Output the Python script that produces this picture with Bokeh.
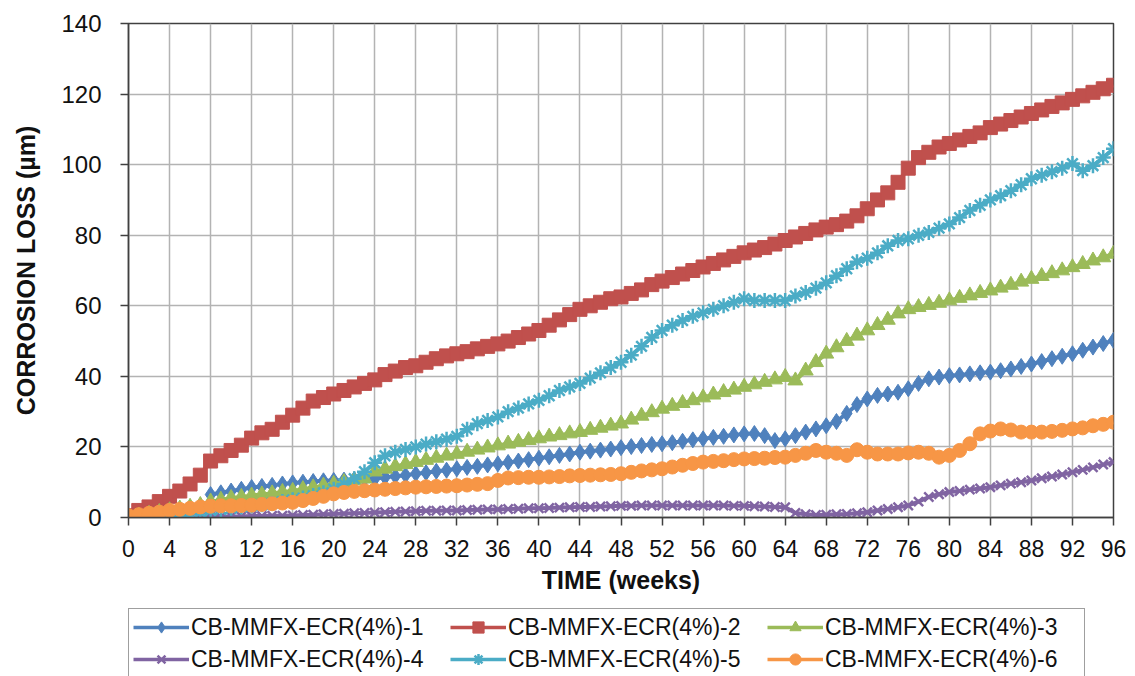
from bokeh.plotting import figure
from bokeh.layouts import column
from bokeh.models import Range1d, FixedTicker, Legend, LegendItem
from bokeh.embed import file_html
from bokeh.resources import INLINE

# ---------------- data ----------------
weeks = list(range(0, 97))
weeks_s1 = list(range(8, 97))

s1 = [6.5, 7, 7.5, 8, 8.5, 8.8, 9.1, 9.5, 9.8, 10, 10.2, 10.4, 10.5, 10.6, 10.8, 10.9,
      11, 11.4, 11.7, 12, 12.4, 12.7, 13.1, 13.4, 13.8, 14.2, 14.5, 14.9, 15.2, 15.6, 16, 16.4,
      16.8, 17.2, 17.6, 18, 18.5, 18.8, 19.1, 19.4, 19.8, 20.1, 20.4, 20.7, 20.9, 21.2, 21.6, 22,
      22.3, 22.7, 23, 23.4, 23.7, 23.8, 23.2, 21.8, 22.3, 23.2, 24.2, 25.1, 26, 27.2, 29.5, 32,
      33.6, 34.6, 35, 35.5, 36.5, 38, 39.3, 39.8, 40.2, 40.4, 40.7, 41, 41.2, 41.6, 42.1, 42.8,
      43.5, 44.2, 45, 45.7, 46.4, 47.4, 48.3, 49.3, 50.2]

s2 = [0.5, 2, 3, 4.5, 6, 7.5, 9.5, 12, 16, 17.5, 19, 20.5, 22.5, 24, 25, 27,
      29, 31, 33, 34, 35, 36, 37, 38, 39, 40.5, 41.5, 42.5, 43, 44, 45, 45.8,
      46.4, 47, 47.8, 48.5, 49.2, 50, 51, 52, 53, 54.5, 56, 57.5, 59, 60, 61, 62,
      62.5, 63.5, 64.5, 66, 67, 68, 69, 70, 71, 72, 73, 74, 75, 75.8, 76.5, 77.5,
      78.5, 79.5, 80.5, 81.5, 82.3, 83, 84, 85.5, 87.5, 90, 92, 95, 99, 102, 103.5, 105,
      106, 107, 108, 109, 110.5, 111.5, 112.5, 113.5, 114.5, 115.5, 116.5, 117.5, 118.5, 119.5,
      120.5, 121.5, 122.5]

s3 = [0, 0.5, 1, 1.5, 2, 2.5, 3, 3.5, 4.5, 5, 5.5, 5.8, 6.2, 6.5, 6.8, 7.2,
      7.5, 8, 8.5, 9, 9.5, 10, 10.5, 11, 13, 13.8, 14.5, 15.1, 15.7, 16.3, 16.9, 17.5,
      18, 18.6, 19.2, 19.8, 20.4, 20.9, 21.4, 21.9, 22.4, 22.9, 23.3, 23.8, 24.2, 24.8, 25.4, 26,
      26.6, 27.7, 28.8, 29.8, 30.8, 31.6, 32.4, 33.2, 34, 34.8, 35.5, 36.2, 37, 37.7, 38.4, 39.1,
      39.8, 38.8, 41.6, 44, 46.4, 48.2, 50, 51.5, 53, 54.5, 56, 57.8, 59, 59.6, 60.2, 60.8,
      61.5, 62.2, 62.9, 63.6, 64.3, 65.1, 65.9, 66.8, 67.6, 68.4, 69.2, 70, 70.9, 71.8, 72.8, 73.7,
      74.7]

s4 = [0, 0, 0, 0, 0, 0, 0.1, 0.1, 0.2, 0.2, 0.3, 0.3, 0.4, 0.4, 0.5, 0.5,
      0.6, 0.7, 0.8, 0.9, 1, 1.1, 1.2, 1.3, 1.4, 1.5, 1.6, 1.7, 1.8, 1.9, 1.9, 2,
      2, 2.1, 2.2, 2.3, 2.3, 2.4, 2.5, 2.6, 2.6, 2.7, 2.8, 2.9, 3, 3, 3.1, 3.2,
      3.3, 3.3, 3.4, 3.4, 3.4, 3.4, 3.4, 3.4, 3.4, 3.4, 3.4, 3.3, 3.3, 3.2, 3.1, 3,
      2.9, 1.3, 0.9, 0.7, 0.8, 0.9, 1, 1.2, 1.5, 2, 2.4, 2.9, 3.4, 4.5, 5.8, 6.6,
      7.2, 7.5, 7.9, 8.2, 8.6, 9.1, 9.6, 10, 10.5, 11.1, 11.6, 12.2, 12.8, 13.5, 14.2, 15,
      15.7]

s5 = [0, -0.5, -0.5, -0.3, 0, 0.5, 1, 1.5, 2, 2.3, 2.6, 3, 3.3, 3.6, 4, 4.5,
      5, 5.5, 6.2, 7, 8, 9.5, 11, 13, 15.5, 17.5, 18.5, 19.3, 20, 20.8, 21.5, 22.2,
      23, 25, 26.6, 27.5, 28.5, 30, 31, 32.2, 33.2, 34.5, 36, 37, 38, 39.5, 41, 42.5,
      44, 46, 48.5, 51, 53, 54.5, 55.8, 57, 58, 59, 60, 61, 62, 61.5, 61.5, 61.5,
      61.5, 62.8, 63.8, 65, 66.5, 68.5, 70.5, 72.5, 73.5, 75, 77, 78.5, 79, 80, 80.8, 82,
      83.2, 85, 87, 88.5, 90, 91.2, 92.6, 94.3, 96, 97, 98, 99, 100.3, 98.3, 99.7, 102,
      104.5]

s6 = [0.5, 0.8, 1.2, 1.5, 2, 2.3, 2.6, 3, 3.2, 3.3, 3.3, 3.4, 3.5, 3.7, 3.9, 4.1,
      4.3, 4.8, 5.4, 6, 6.7, 7.1, 7.4, 7.6, 7.8, 8, 8.2, 8.4, 8.6, 8.7, 8.8, 8.9,
      9, 9.2, 9.4, 9.6, 10.5, 11.2, 11.3, 11.4, 11.4, 11.5, 11.6, 11.8, 11.9, 12, 12.1, 12.2,
      12.4, 12.8, 13.2, 13.5, 13.8, 14.3, 14.8, 15.3, 15.7, 15.9, 16.1, 16.4, 16.6, 16.7, 16.8, 17,
      17.1, 17.6, 18.2, 19, 18.5, 18.2, 17.6, 19.2, 18.5, 18, 18, 18, 18.3, 18.5, 18.2, 17.1,
      17.6, 19, 20.9, 23.7, 24.5, 25.1, 24.8, 24.2, 24.2, 24.2, 24.4, 24.7, 25.1, 25.4, 26, 26.4,
      27]

names = ["CB-MMFX-ECR(4%)-1", "CB-MMFX-ECR(4%)-2", "CB-MMFX-ECR(4%)-3",
         "CB-MMFX-ECR(4%)-4", "CB-MMFX-ECR(4%)-5", "CB-MMFX-ECR(4%)-6"]
colors = ["#4F81BD", "#C0504D", "#9BBB59", "#8064A2", "#4BACC6", "#F79646"]
markers = ["diamond", "square", "triangle", "x", "asterisk", "circle"]
msizes = [16, 14, 15, 13, 15, 14]

x_ticks = list(range(0, 97, 4))
y_ticks = list(range(0, 141, 20))

FONT = "Liberation Sans"
DARK = "#404040"

# ---------------- main chart ----------------
p = figure(width=1135, height=600, output_backend="svg", toolbar_location=None,
           x_range=Range1d(0, 96), y_range=Range1d(0, 140),
           min_border_left=128, min_border_right=22, min_border_top=23,
           min_border_bottom=83)

p.outline_line_color = DARK
p.outline_line_width = 1.5

for ax, ticks in ((p.xaxis, x_ticks), (p.yaxis, y_ticks)):
    ax.ticker = FixedTicker(ticks=ticks)
    ax.axis_line_color = DARK
    ax.axis_line_width = 1.5
    ax.major_tick_line_color = DARK
    ax.major_tick_line_width = 1.5
    ax.major_tick_out = 8
    ax.major_tick_in = 0
    ax.minor_tick_line_color = None
    ax.major_label_text_font = FONT
    ax.major_label_text_color = "#111111"
    ax.axis_label_text_font = FONT
    ax.axis_label_text_font_style = "bold"
    ax.axis_label_text_font_size = "25px"
    ax.axis_label_text_color = "#111111"

p.xaxis.major_label_text_font_size = "23px"
p.yaxis.major_label_text_font_size = "24px"
p.xaxis.major_label_standoff = 14
p.yaxis.major_label_standoff = 19
p.xaxis.axis_label = "TIME (weeks)"
p.yaxis.axis_label = "CORROSION LOSS (µm)"
p.xaxis.axis_label_standoff = 6
p.yaxis.axis_label_standoff = 18

p.xgrid.ticker = FixedTicker(ticks=x_ticks)
p.ygrid.ticker = FixedTicker(ticks=y_ticks)
p.grid.grid_line_color = "#B3B3B3"
p.grid.grid_line_width = 1.5

series = [(weeks_s1, s1), (weeks, s2), (weeks, s3), (weeks, s4), (weeks, s5), (weeks, s6)]


def draw(fig, xs, ys, col, mk, ms, lw=4):
    ln = fig.line(xs, ys, line_color=col, line_width=lw)
    if mk in ("x", "asterisk"):
        sc = fig.scatter(xs, ys, marker=mk, size=ms, line_color=col, line_width=2.5)
    else:
        sc = fig.scatter(xs, ys, marker=mk, size=ms, fill_color=col, line_color=col)
    return ln, sc


for (xs, ys), col, mk, ms in zip(series, colors, markers, msizes):
    draw(p, xs, ys, col, mk, ms)

# ---------------- legend strip below the chart ----------------
# (the legend strip reuses each series' first point only as a legend swatch
#  source; its view range is placed away from the data so nothing is drawn)
lg = figure(width=1135, height=76, output_backend="svg", toolbar_location=None,
            x_range=Range1d(1000, 1001), y_range=Range1d(1000, 1001),
            x_axis_type=None, y_axis_type=None,
            min_border_left=0, min_border_right=0, min_border_top=0, min_border_bottom=0)
lg.outline_line_color = None
lg.grid.visible = False

items = []
for (xs, ys), name, col, mk, ms in zip(series, names, colors, markers, msizes):
    ln, sc = draw(lg, xs[:1], ys[:1], col, mk, ms - 2, lw=3.5)
    items.append(LegendItem(label=name, renderers=[ln, sc]))

legend = Legend(items=items, orientation="horizontal", ncols=3, location=(0, -2),
                label_text_font=FONT, label_text_font_size="23px",
                label_text_color="#111111",
                glyph_width=56, glyph_height=28, label_height=28, label_width=255,
                label_standoff=2, spacing=4, padding=4, margin=0,
                border_line_color=DARK, border_line_width=1.5,
                background_fill_alpha=1.0)
lg.add_layout(legend, "center")

layout = column(p, lg, spacing=0)
open("out.html", "w").write(file_html(layout, INLINE))
